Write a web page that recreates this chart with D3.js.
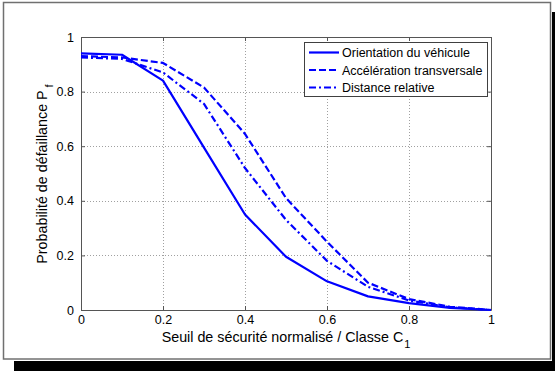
<!DOCTYPE html>
<html>
<head>
<meta charset="utf-8">
<script src="https://cdn.jsdelivr.net/npm/d3@7"></script>
<style>
  html, body { margin: 0; padding: 0; background: #fff; }
  svg { display: block; }
  text { font-family: "Liberation Sans", Arial, sans-serif; fill: #000; }
</style>
</head>
<body>
<script>
// ---- data ----
const thresholds = [0, 0.1, 0.2, 0.3, 0.4, 0.5, 0.6, 0.7, 0.8, 0.9, 1.0];
const orientation = [0.94, 0.935, 0.84, 0.595, 0.35, 0.195, 0.105, 0.05, 0.025, 0.008, 0];
const acceleration = [0.93, 0.925, 0.905, 0.815, 0.645, 0.41, 0.25, 0.10, 0.04, 0.012, 0];
const distance = [0.925, 0.92, 0.87, 0.755, 0.52, 0.33, 0.18, 0.085, 0.035, 0.01, 0];
const seriesNames = ["Orientation du véhicule", "Accélération transversale", "Distance relative"];
const xTicks = [0, 0.2, 0.4, 0.6, 0.8, 1];
const yTicks = [0, 0.2, 0.4, 0.6, 0.8, 1];
const xTickLabels = ["0", "0.2", "0.4", "0.6", "0.8", "1"];
const yTickLabels = ["0", "0.2", "0.4", "0.6", "0.8", "1"];

const W = 555, H = 371;
const svg = d3.select("body").append("svg").attr("width", W).attr("height", H);

// frame with drop shadow
svg.append("rect").attr("x", 14).attr("y", 12).attr("width", W - 14).attr("height", H - 12).attr("fill", "#000");
svg.append("rect").attr("x", 0).attr("y", 0).attr("width", 552).attr("height", 361).attr("fill", "#fff");
svg.append("rect").attr("x", 3.5).attr("y", 2.5).attr("width", 547).attr("height", 356.5)
  .attr("fill", "#fff").attr("stroke", "#707070").attr("stroke-width", 1.5);

const x = d3.scaleLinear().domain([0, 1]).range([81, 491]);
const y = d3.scaleLinear().domain([0, 1]).range([310, 37]);

const g = svg.append("g");

// grid
g.selectAll(".gx").data(xTicks.slice(1, -1)).join("line")
  .attr("x1", d => Math.round(x(d)) + 0.5).attr("x2", d => Math.round(x(d)) + 0.5)
  .attr("y1", y(0)).attr("y2", y(1))
  .attr("stroke", "#a0a0a0").attr("stroke-width", 1).attr("stroke-dasharray", "1,2");
g.selectAll(".gy").data(yTicks.slice(1, -1)).join("line")
  .attr("y1", d => Math.round(y(d)) + 0.5).attr("y2", d => Math.round(y(d)) + 0.5)
  .attr("x1", x(0)).attr("x2", x(1))
  .attr("stroke", "#a0a0a0").attr("stroke-width", 1).attr("stroke-dasharray", "1,2");

// axes (bottom/left with labels, top/right ticks only, inward)
const axColor = "#555";
const xAxis = d3.axisBottom(x).tickValues(xTicks).tickFormat((d, i) => xTickLabels[i]).tickSizeInner(-4).tickSizeOuter(0).tickPadding(5);
const yAxis = d3.axisLeft(y).tickValues(yTicks).tickFormat((d, i) => yTickLabels[i]).tickSizeInner(-4).tickSizeOuter(0).tickPadding(7);
const xAxisTop = d3.axisTop(x).tickValues(xTicks).tickFormat("").tickSizeInner(-4).tickSizeOuter(0);
const yAxisRight = d3.axisRight(y).tickValues(yTicks).tickFormat("").tickSizeInner(-4).tickSizeOuter(0);

function style(sel) {
  sel.select(".domain").attr("stroke", axColor);
  sel.selectAll(".tick line").attr("stroke", axColor);
  sel.selectAll("text").attr("font-size", 12.5).attr("font-family", "Liberation Sans, Arial, sans-serif").attr("fill", "#000");
}
g.append("g").attr("transform", `translate(0,${y(0)})`).call(xAxis).call(style);
g.append("g").attr("transform", `translate(${x(0)},0)`).call(yAxis).call(style);
g.append("g").attr("transform", `translate(0,${y(1)})`).call(xAxisTop).call(style);
g.append("g").attr("transform", `translate(${x(1)},0)`).call(yAxisRight).call(style);

// series
const styles = [null, "7,3", "7,3,2,3"];
const allSeries = [orientation, acceleration, distance];
const line = d3.line().x(d => x(d[0])).y(d => y(d[1]));
allSeries.forEach((vals, i) => {
  g.append("path")
    .datum(thresholds.map((t, j) => [t, vals[j]]))
    .attr("d", line)
    .attr("fill", "none")
    .attr("stroke", "#0000ff")
    .attr("stroke-width", 2.2)
    .attr("stroke-linejoin", "round")
    .attr("stroke-dasharray", styles[i]);
});

// axis labels
const xl = svg.append("text").attr("x", 286).attr("y", 342).attr("text-anchor", "middle").attr("font-size", 14.3);
xl.append("tspan").text("Seuil de sécurité normalisé / Classe C");
xl.append("tspan").attr("dy", 6).attr("dx", 1).attr("font-size", 11).text("1");

const yl = svg.append("text").attr("transform", "translate(47,174) rotate(-90)").attr("text-anchor", "middle").attr("font-size", 14.3);
yl.append("tspan").text("Probabilité de défaillance P");
yl.append("tspan").attr("dy", 6).attr("dx", 3).attr("font-size", 11).text("f");

// legend
const lg = svg.append("g");
lg.append("rect").attr("x", 304.5).attr("y", 42.5).attr("width", 183).attr("height", 54)
  .attr("fill", "#fff").attr("stroke", "#404040").attr("stroke-width", 1);
const rowY = [52.5, 70, 87.5];
seriesNames.forEach((name, i) => {
  lg.append("line").attr("x1", 309).attr("x2", 339).attr("y1", rowY[i]).attr("y2", rowY[i])
    .attr("stroke", "#0000ff").attr("stroke-width", 2.2).attr("stroke-dasharray", styles[i]);
  lg.append("text").attr("x", 342).attr("y", rowY[i] + 4.5).attr("font-size", 12.5).text(name);
});
</script>
</body>
</html>
